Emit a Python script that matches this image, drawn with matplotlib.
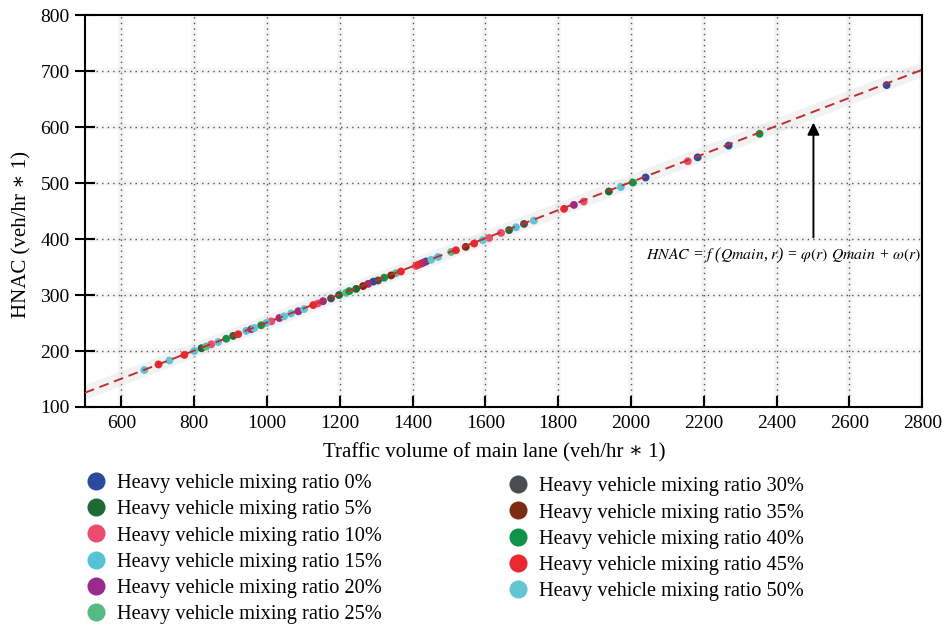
import matplotlib
matplotlib.use("Agg")
import matplotlib.pyplot as plt
from matplotlib.lines import Line2D

plt.rcParams['font.family'] = ['Liberation Serif', 'DejaVu Serif']
plt.rcParams['mathtext.fontset'] = 'stix'

series_labels = ["0%", "5%", "10%", "15%", "20%", "25%", "30%", "35%", "40%", "45%", "50%"]
series_colors = ["#2a4b9c", "#1d6a35", "#ee4b6f", "#58c3d6", "#9a2a8d", "#55bb82",
                 "#4a4d52", "#7e2b14", "#0f9447", "#e9282f", "#63c4d2"]

q_0 = [1292, 1437, 2040, 2183, 2268, 2702]
h_0 = [324, 360, 510, 546, 567, 675]
q_5 = [820, 907, 1198, 1245, 1665, 1939]
h_5 = [205, 227, 300, 311, 416, 485]
q_10 = [847, 1012, 1140, 1409, 1610, 1643, 1870, 2156]
h_10 = [212, 253, 285, 352, 402, 411, 467, 539]
q_15 = [663, 800, 943, 998, 1066, 1470, 1684, 1972]
h_15 = [166, 200, 236, 250, 267, 368, 421, 493]
q_20 = [957, 1034, 1086, 1154, 1278, 1423, 1430, 1843]
h_20 = [239, 259, 271, 289, 320, 356, 358, 461]
q_25 = [833, 1217, 1354, 1506]
h_25 = [208, 304, 339, 377]
q_30 = [1176, 1305, 1706]
h_30 = [294, 326, 427]
q_35 = [1264, 1341, 1546]
h_35 = [316, 335, 386]
q_40 = [888, 984, 1226, 1322, 2005, 2353]
h_40 = [222, 246, 307, 331, 501, 588]
q_45 = [702, 773, 921, 1127, 1368, 1415, 1519, 1569, 1816]
h_45 = [176, 193, 230, 282, 342, 354, 380, 392, 454]
q_50 = [732, 866, 965, 1047, 1102, 1451, 1593, 1733]
h_50 = [183, 216, 241, 262, 275, 363, 398, 433]

q_series = [q_0, q_5, q_10, q_15, q_20, q_25, q_30, q_35, q_40, q_45, q_50]
h_series = [h_0, h_5, h_10, h_15, h_20, h_25, h_30, h_35, h_40, h_45, h_50]

fit_q = [500, 2800]
fit_h = [125.5, 702.5]

x_ticks = [600, 800, 1000, 1200, 1400, 1600, 1800, 2000, 2200, 2400, 2600, 2800]
y_ticks = [100, 200, 300, 400, 500, 600, 700, 800]

fig = plt.figure(figsize=(9.44, 6.31), dpi=100)
ax = fig.add_axes([0.090, 0.355, 0.887, 0.621])
ax.set_xlim(500, 2800)
ax.set_ylim(100, 800)

# grid: light haze + dotted
for xv in x_ticks:
    ax.axvline(xv, color='#e4e4e4', lw=4, alpha=0.35, zorder=0)
    ax.axvline(xv, color='#555555', lw=1.0, ls=(0, (1, 3)), zorder=1)
for yv in y_ticks[1:-1]:
    ax.axhline(yv, color='#e4e4e4', lw=4, alpha=0.35, zorder=0)
    ax.axhline(yv, color='#555555', lw=1.0, ls=(0, (1, 3)), zorder=1)

# haze around the line
ax.plot(fit_q, fit_h, color='#dcdcdc', lw=10, alpha=0.35, solid_capstyle='butt', zorder=1)

for q, h, c in zip(q_series, h_series, series_colors):
    ax.scatter(q, h, s=32, color=c, edgecolors='none', zorder=3)

ax.plot(fit_q, fit_h, color='#c0302f', lw=1.4, ls=(0, (5, 3)), zorder=4)

ax.annotate('', xy=(2501, 613), xytext=(2501, 398),
            arrowprops=dict(arrowstyle='-|>', color='black', lw=1.4, mutation_scale=18))
ax.text(2418, 370, r'$HNAC$ = $f$ ($Qmain$, $r$) = $\varphi(r)$ $Qmain$ + $\omega(r)$',
        ha='center', va='center', fontsize=11.3, style='italic')

ax.set_xticks(x_ticks)
ax.set_yticks(y_ticks)
ax.tick_params(axis='x', direction='in', length=8, width=1.5, labelsize=14, pad=6)
ax.tick_params(axis='y', direction='inout', length=14, width=1.5, labelsize=14, pad=4)
for s in ax.spines.values():
    s.set_linewidth(1.5)

ax.set_xlabel('Traffic volume of main lane (veh/hr \u2217 1)', fontsize=15, labelpad=8)
ax.set_ylabel('HNAC (veh/hr \u2217 1)', fontsize=15, labelpad=6)
ax.xaxis.label.set_x(0.489)
ax.yaxis.label.set_y(0.44)

handles = [Line2D([], [], marker='o', ls='none', markersize=13, color=c, markeredgecolor='none')
           for c in series_colors]
labels = ['Heavy vehicle mixing ratio ' + s for s in series_labels]

leg1 = fig.legend(handles[:6], labels[:6], loc='upper left', bbox_to_anchor=(0.080, 0.262),
                  frameon=False, fontsize=14.7, handletextpad=0.45, labelspacing=0.34,
                  borderaxespad=0, handlelength=1.2)
leg2 = fig.legend(handles[6:], labels[6:], loc='upper left', bbox_to_anchor=(0.527, 0.257),
                  frameon=False, fontsize=14.7, handletextpad=0.45, labelspacing=0.34,
                  borderaxespad=0, handlelength=1.2)

fig.savefig('out.png', dpi=100)
